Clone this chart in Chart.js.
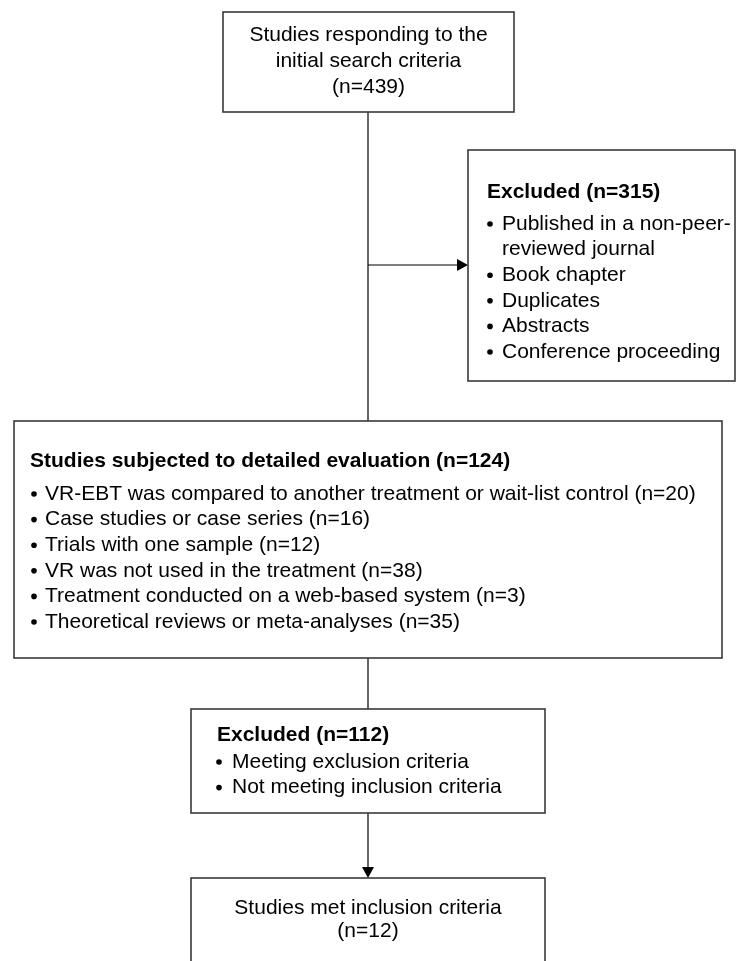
<!DOCTYPE html>
<html>
<head>
<meta charset="utf-8">
<script src="https://cdn.jsdelivr.net/npm/chart.js@4.4.1/dist/chart.umd.min.js"></script>
<style>
  html, body { margin: 0; padding: 0; background: #fff; }
  #wrap { width: 753px; height: 961px; }
</style>
</head>
<body>
<div id="wrap"><canvas id="chart" width="753" height="961"></canvas></div>
<script>
// counts at each stage
var searchCount = 439;
var excludedFirst = 315;
var evaluatedCount = 124;
var excludedSecond = 112;
var includedCount = 12;

// reasons for the first exclusion (the first one wraps over two lines)
var firstReasons = [['Published in a non-peer-', 'reviewed journal'], ['Book chapter'], ['Duplicates'], ['Abstracts'], ['Conference proceeding']];

// detailed evaluation categories and their counts
var evalReasons = [
    'VR-EBT was compared to another treatment or wait-list control',
    'Case studies or case series',
    'Trials with one sample',
    'VR was not used in the treatment',
    'Treatment conducted on a web-based system',
    'Theoretical reviews or meta-analyses'
];
var evalCounts = [20, 16, 12, 38, 3, 35];

var secondReasons = ['Meeting exclusion criteria', 'Not meeting inclusion criteria'];

// box geometry in page units (x left->right, y top->bottom)
var layout = {
    start:    { x0: 223, x1: 514, y0: 12,  y1: 112 },
    excl1:    { x0: 468, x1: 735, y0: 150, y1: 381 },
    evalBox:  { x0: 14,  x1: 722, y0: 421, y1: 658 },
    excl2:    { x0: 191, x1: 545, y0: 709, y1: 813 },
    included: { x0: 191, x1: 545, y0: 878, y1: 966 },
    spineX: 368,
    branchY: 265
};

var FONT = '"Liberation Sans", Arial, Helvetica, sans-serif';
var SIZE = 21;
var LINE = 25.6;

var flowPlugin = {
    id: 'flow',
    afterDraw: function (chart) {
        var c = chart.ctx;
        var sx = chart.scales.x, sy = chart.scales.y;
        var X = function (v) { return sx.getPixelForValue(v); };
        var Y = function (v) { return sy.getPixelForValue(v); };

        function box(b) {
            c.save();
            c.strokeStyle = '#3a3a3a';
            c.lineWidth = 1.6;
            c.strokeRect(X(b.x0), Y(b.y0), X(b.x1) - X(b.x0), Y(b.y1) - Y(b.y0));
            c.restore();
        }
        function line(x0, y0, x1, y1) {
            c.save();
            c.strokeStyle = '#000';
            c.lineWidth = 1.2;
            c.beginPath();
            c.moveTo(X(x0), Y(y0));
            c.lineTo(X(x1), Y(y1));
            c.stroke();
            c.restore();
        }
        function arrowHead(x, y, dir) {
            c.save();
            c.fillStyle = '#000';
            c.beginPath();
            if (dir === 'right') {
                c.moveTo(X(x), Y(y));
                c.lineTo(X(x - 11), Y(y - 6));
                c.lineTo(X(x - 11), Y(y + 6));
            } else {
                c.moveTo(X(x), Y(y));
                c.lineTo(X(x - 6), Y(y - 11));
                c.lineTo(X(x + 6), Y(y - 11));
            }
            c.closePath();
            c.fill();
            c.restore();
        }
        function text(str, x, y, bold, align) {
            c.save();
            c.fillStyle = '#000';
            c.font = (bold ? 'bold ' : '') + SIZE + 'px ' + FONT;
            c.textAlign = align || 'left';
            c.textBaseline = 'middle';
            c.fillText(str, X(x), Y(y));
            c.restore();
        }
        function bullet(x, y) {
            c.save();
            c.fillStyle = '#000';
            c.beginPath();
            c.arc(X(x), Y(y), 2.8, 0, Math.PI * 2);
            c.fill();
            c.restore();
        }

        // connectors
        var L = layout;
        line(L.spineX, L.start.y1, L.spineX, L.evalBox.y0);
        line(L.spineX, L.branchY, L.excl1.x0 - 10, L.branchY);
        arrowHead(L.excl1.x0, L.branchY, 'right');
        line(L.spineX, L.evalBox.y1, L.spineX, L.excl2.y0);
        line(L.spineX, L.excl2.y1, L.spineX, L.included.y0 - 10);
        arrowHead(L.spineX, L.included.y0, 'down');

        // boxes
        [L.start, L.excl1, L.evalBox, L.excl2, L.included].forEach(box);

        // start box
        var cx = (L.start.x0 + L.start.x1) / 2;
        text('Studies responding to the', cx, L.start.y0 + 23, false, 'center');
        text('initial search criteria', cx, L.start.y0 + 49, false, 'center');
        text('(n=' + searchCount + ')', cx, L.start.y0 + 75, false, 'center');

        // first exclusion
        var y = L.excl1.y0 + 42;
        text('Excluded (n=' + excludedFirst + ')', L.excl1.x0 + 19, y, true);
        y += 32;
        firstReasons.forEach(function (r) {
            bullet(L.excl1.x0 + 22, y);
            r.forEach(function (part) {
                text(part, L.excl1.x0 + 34, y);
                y += LINE;
            });
        });

        // evaluation box
        y = L.evalBox.y0 + 40;
        text('Studies subjected to detailed evaluation (n=' + evaluatedCount + ')', L.evalBox.x0 + 16, y, true);
        y += 33;
        evalReasons.forEach(function (r, i) {
            bullet(L.evalBox.x0 + 20, y);
            text(r + ' (n=' + evalCounts[i] + ')', L.evalBox.x0 + 31, y);
            y += LINE;
        });

        // second exclusion
        y = L.excl2.y0 + 26;
        text('Excluded (n=' + excludedSecond + ')', L.excl2.x0 + 26, y, true);
        y += 27;
        secondReasons.forEach(function (r) {
            bullet(L.excl2.x0 + 28, y);
            text(r, L.excl2.x0 + 41, y);
            y += LINE;
        });

        // included
        cx = (L.included.x0 + L.included.x1) / 2;
        text('Studies met inclusion criteria', cx, L.included.y0 + 30, false, 'center');
        text('(n=' + includedCount + ')', cx, L.included.y0 + 53, false, 'center');
    }
};

var ctx = document.getElementById('chart');
var flowChart = new Chart(ctx, {
    type: 'scatter',
    data: { datasets: [] },
    options: {
        responsive: false,
        animation: false,
        layout: { padding: 0 },
        plugins: { legend: { display: false }, tooltip: { enabled: false } },
        scales: {
            x: { type: 'linear', min: 0, max: 753, display: false },
            y: { type: 'linear', min: 0, max: 961, reverse: true, display: false }
        }
    },
    plugins: [flowPlugin]
});
</script>
</body>
</html>
